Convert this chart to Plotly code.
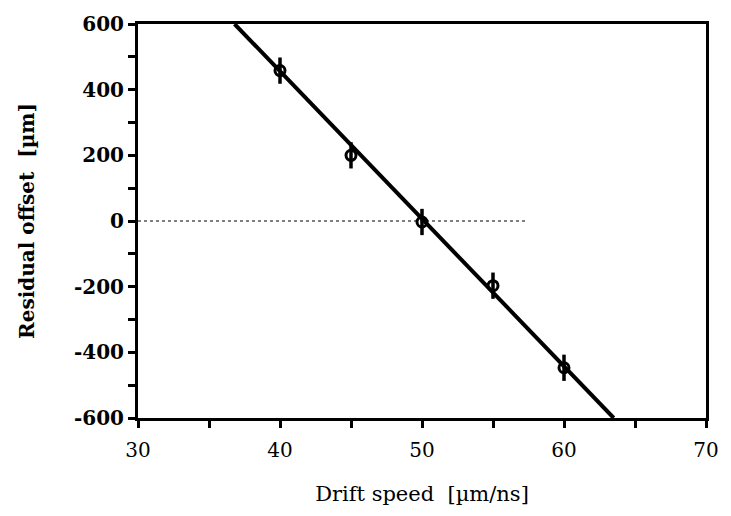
import plotly.graph_objects as go

# Measured residual offsets vs. drift speed
drift_speed = [40, 45, 50, 55, 60]
residual_offset = [458, 200, -3, -197, -447]
offset_error = [40, 40, 40, 40, 40]

# Linear fit through the measurements (endpoints at the frame edges)
fit_speed = [36.8, 63.5]
fit_offset = [600, -600]

# Zero reference line extent
zero_speed = [30, 57.3]
zero_offset = [0, 0]

x_ticks = [30, 40, 50, 60, 70]
y_ticks = [-600, -400, -200, 0, 200, 400, 600]
y_tick_text = ["-600", "-400", "-200", "0", "200", "400", "600"]

serif = "DejaVu Serif"

fig = go.Figure()

fig.add_trace(go.Scatter(
    x=zero_speed, y=zero_offset, mode="lines",
    line=dict(color="black", width=1.2, dash="dot"),
    hoverinfo="skip", showlegend=False,
))

fig.add_trace(go.Scatter(
    x=fit_speed, y=fit_offset, mode="lines",
    line=dict(color="black", width=4),
    showlegend=False,
))

fig.add_trace(go.Scatter(
    x=drift_speed, y=residual_offset, mode="markers",
    marker=dict(symbol="circle-open", size=10, color="black",
                line=dict(width=3, color="black")),
    error_y=dict(type="data", array=offset_error, visible=True,
                 color="black", thickness=3.5, width=0),
    showlegend=False,
))

axis_common = dict(
    showline=True, linecolor="black", linewidth=3, mirror=True,
    showgrid=False, zeroline=False,
    ticks="outside", ticklen=7, tickwidth=2.5, tickcolor="black",
)

fig.update_xaxes(
    range=[30, 70], tickvals=x_ticks,
    minor=dict(dtick=5, tick0=30, ticks="outside", ticklen=7, tickwidth=2.5, tickcolor="black"),
    tickfont=dict(family=serif, size=20, color="black"),
    ticklabelstandoff=5,
    title=dict(text="Drift speed  [µm/ns]", font=dict(family=serif, size=21, color="black"), standoff=26),
    **axis_common,
)
fig.update_yaxes(
    range=[-600, 600], tickvals=y_ticks, ticktext=y_tick_text,
    minor=dict(dtick=100, tick0=-600, ticks="outside", ticklen=7, tickwidth=2.5, tickcolor="black"),
    tickfont=dict(family=serif, size=20, color="black", weight="bold"),
    title=dict(text="Residual offset  [µm]", font=dict(family=serif, size=20, color="black", weight="bold"), standoff=34),
    **axis_common,
)

fig.update_layout(
    width=731, height=516,
    margin=dict(l=138, r=17, t=22, b=98),
    paper_bgcolor="white", plot_bgcolor="white",
)

fig.write_html("out.html")
